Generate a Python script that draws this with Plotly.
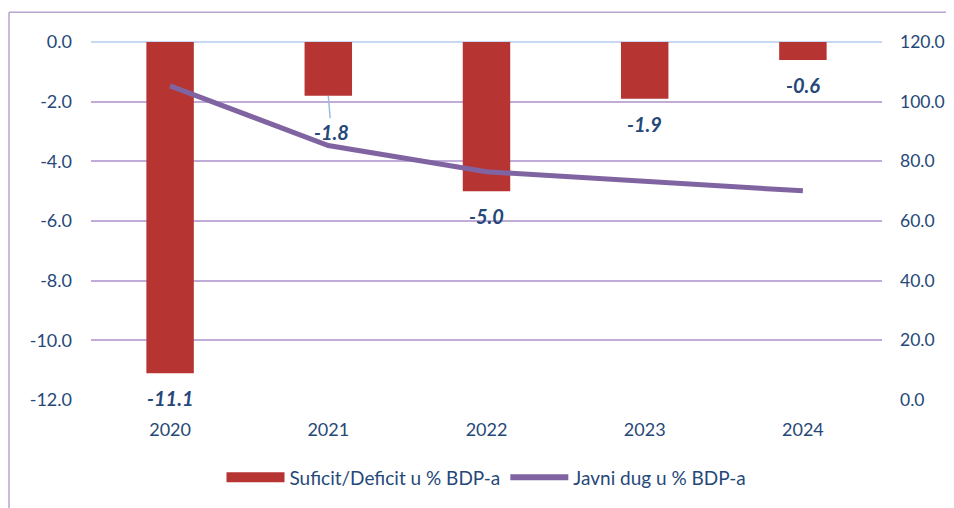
import plotly.graph_objects as go

years = ["2020", "2021", "2022", "2023", "2024"]
balance = [-11.1, -1.8, -5.0, -1.9, -0.6]
debt = [105.3, 85.3, 76.5, 73.4, 70.1]
left_ticks = [0, -2, -4, -6, -8, -10, -12]
right_ticks = [0, 20, 40, 60, 80, 100, 120]

W, H = 954, 508
OX, OY = 8, 8  # page body margin offset
ML, MR, MT, MB = 91, 72, 42, 105
PW, PH = W - ML - MR, H - MT - MB

TXT = "#264878"
FONT = "Lato, 'Open Sans', sans-serif"
RED = "#b63432"
PURPLE = "#8064a2"

fig = go.Figure()
fig.add_trace(go.Bar(
    x=years, y=balance, name="Suficit/Deficit u % BDP-a",
    marker=dict(color=RED, line=dict(width=0)),
    width=0.3, yaxis="y", showlegend=False,
))
fig.add_trace(go.Scatter(
    x=years, y=debt, name="Javni dug u % BDP-a", mode="lines",
    line=dict(color=PURPLE, width=5), yaxis="y2", showlegend=False,
))
# legend entries (wide swatches like the original)
fig.add_trace(go.Scatter(
    x=[None], y=[None], name="Suficit/Deficit u % BDP-a", mode="lines",
    line=dict(color=RED, width=12), yaxis="y", showlegend=True,
))
fig.add_trace(go.Scatter(
    x=[None], y=[None], name="Javni dug u % BDP-a", mode="lines",
    line=dict(color=PURPLE, width=6), yaxis="y2", showlegend=True,
))

for i, v in enumerate(balance):
    if i == 1:
        fig.add_annotation(x=i, y=v, xref="x", yref="y",
                           text=f"<b><i>{v:.1f}</i></b>", showarrow=True,
                           arrowhead=0, arrowwidth=1.5, arrowcolor="#9dbbe0",
                           ax=3, ay=36, standoff=0,
                           font=dict(size=20, color=TXT, family=FONT))
    else:
        fig.add_annotation(x=i, y=v, xref="x", yref="y",
                           text=f"<b><i>{v:.1f}</i></b>", showarrow=False,
                           yanchor="middle", yshift=-25,
                           font=dict(size=20, color=TXT, family=FONT))

# outer chart border (left and top only visible)
bx = (9 - ML) / PW
by = (H - MB - 12) / PH
fig.add_shape(type="line", xref="paper", yref="paper", x0=bx, x1=bx, y0=-2, y1=by,
              line=dict(color="#b9a5cf", width=1.5))
fig.add_shape(type="line", xref="paper", yref="paper", x0=bx, x1=3, y0=by, y1=by,
              line=dict(color="#b9a5cf", width=1.5))

fig.update_layout(
    width=W - OX, height=H - OY,
    margin=dict(l=ML - OX, r=MR, t=MT - OY, b=MB),
    paper_bgcolor="white", plot_bgcolor="white",
    font=dict(family=FONT, size=18, color=TXT),
    showlegend=True,
    legend=dict(orientation="h", x=0.5, xanchor="center", y=(H - MB - 481) / PH,
                yanchor="middle", font=dict(size=19, color=TXT),
                itemwidth=58, tracegroupgap=0),
    xaxis=dict(type="category", range=[-0.5, 4.5], showgrid=False, showline=False,
               ticks="", tickfont=dict(size=18, color=TXT), automargin=False,
               ticklabelstandoff=17),
    yaxis=dict(range=[-12, 0], tickvals=left_ticks,
               ticktext=[f"{t:.1f}" for t in left_ticks],
               showgrid=True, gridcolor="#c0acd6", gridwidth=1.5,
               zeroline=True, zerolinecolor="#c6d9f1", zerolinewidth=2,
               ticks="", ticklabelstandoff=18, automargin=False,
               tickfont=dict(size=18, color=TXT)),
    yaxis2=dict(range=[0, 120], tickvals=right_ticks,
                ticktext=[f"{t:.1f}" for t in right_ticks],
                overlaying="y", side="right", showgrid=False, zeroline=False,
                ticks="", ticklabelstandoff=17, automargin=False,
                tickfont=dict(size=17.5, color=TXT)),
)

fig.write_html("out.html")
